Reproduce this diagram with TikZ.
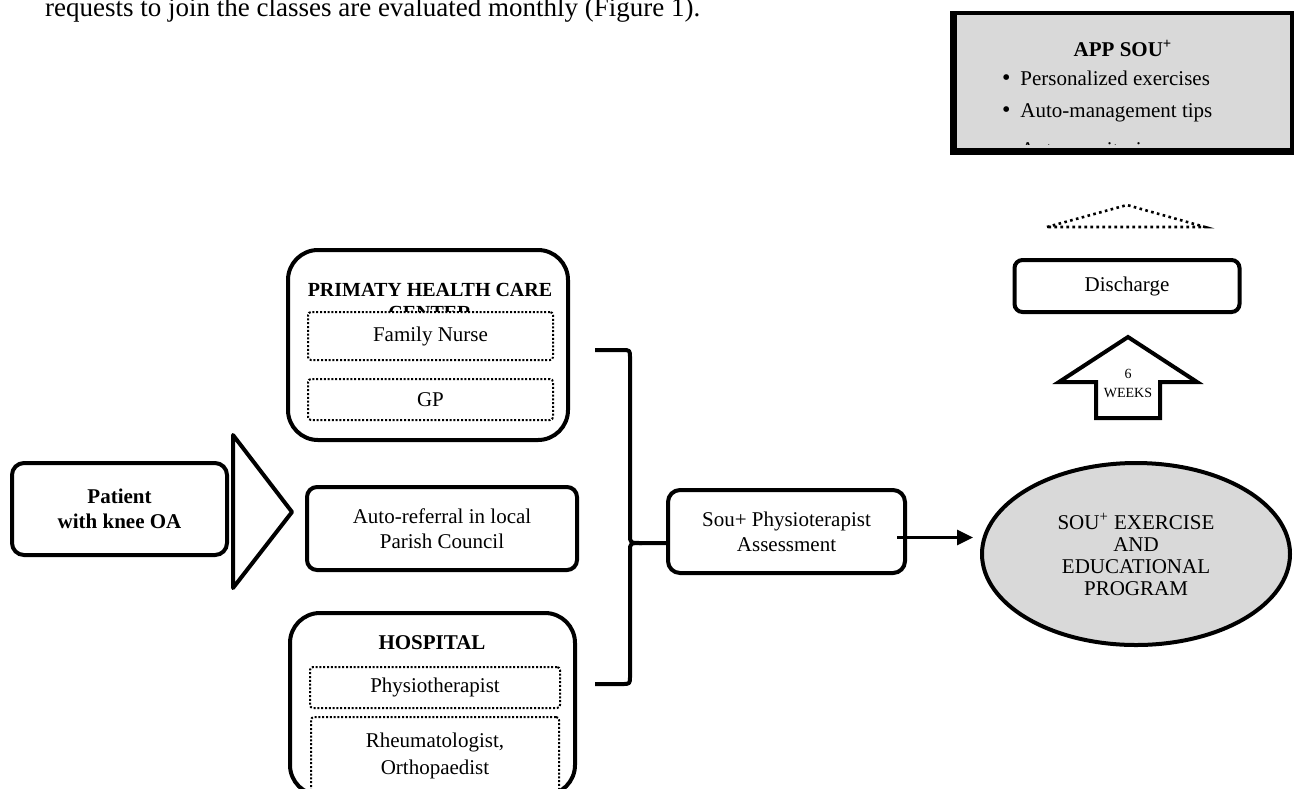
\documentclass[tikz,border=0pt]{standalone}
\usepackage{fontspec}
\setmainfont{Liberation Serif}
\usetikzlibrary {arrows.meta,
                 positioning,
                 shapes.geometric}
\definecolor{boxgray}{RGB}{217,217,217}
\tikzset{
        base/.style={draw, line width=2pt, align=center, inner sep=0pt,
                     font=\fontsize{10.5}{12.5}\selectfont},
        proc/.style={base, rectangle, rounded corners=6pt},
        group/.style={base, rectangle, rounded corners=15pt},
        member/.style={base, rectangle, fill=white, line width=1pt,
                       dash pattern=on 1pt off 0.9pt, rounded corners=1.5pt},
        head/.style={align=center, font=\bfseries\fontsize{10.5}{11.5}\selectfont},
        item/.style={anchor=west, font=\fontsize{10.5}{12.5}\selectfont},
        myarrow/.style={-{Triangle[length=8pt,width=7.5pt]}, line width=1.6pt},
        brace/.style={line width=2pt, line join=round},
        blockarrow/.style={line width=2pt, line join=miter},
 }
\begin{document}
\begin{tikzpicture}[x=0.5pt, y=-0.5pt]
    \useasboundingbox (0,0) rectangle (1295,788);

    \node[anchor=base west, font=\fontsize{13.5}{16}\selectfont] (intro) at (38,16)
        {requests to join the classes are evaluated monthly (Figure 1).};

    % app box
    \node[base, rectangle, fill=boxgray, minimum width=168.5pt, minimum height=68.5pt] (app) at (1123.5,81.5) {};
    \node[head] (appt) at (1123,48) {APP SOU\textsuperscript{+}};
    \node[item] (b1) at (995,78) {{\large\textbullet}\hskip5pt Personalized exercises};
    \node[item] (b2) at (995,113) {{\large\textbullet}\hskip5pt Auto-management tips};
    \begin{scope}
        \clip (957,15) rectangle (1290,144);
        \node[item] (b3) at (995,152) {{\large\textbullet}\hskip5pt Auto-monitoring};
    \end{scope}
    \draw[line width=2.6pt] (app.north west) -- (app.south west) -- (app.south east);

    \draw[line width=1.3pt, dash pattern=on 1.3pt off 1.7pt] (1047,227) -- (1127,205) -- (1205,227) -- cycle;

    \node[proc, rounded corners=4pt, minimum width=112.5pt, minimum height=26pt] (dis) at (1127,286) {Discharge};

    \draw[blockarrow] (1128,337) -- (1197,382) -- (1160,382) -- (1160,418) -- (1096,418)
        -- (1096,382) -- (1059,382) -- cycle;
    \node[align=center, font=\fontsize{7}{9.5}\selectfont] (weeks) at (1128,383) {6\\WEEKS};

    % left column
    \node[proc, font=\bfseries\fontsize{10.5}{12.5}\selectfont, minimum width=107.5pt,
          minimum height=46pt] (pat) at (119.5,509) {Patient\\with knee OA};
    \draw[line width=2pt, line join=round] (233,435) -- (292,512) -- (233,588) -- cycle;

    \node[group, minimum width=140pt, minimum height=95pt] (phc) at (428,345) {};
    \node[head, font=\bfseries\fontsize{10}{11.5}\selectfont] (phct) at (430,301) {PRIMATY HEALTH CARE\\CENTER};
    \node[member, minimum width=122.5pt, minimum height=24pt] (nurse) at (430.5,336) {Family Nurse};
    \node[member, minimum width=122.5pt, minimum height=20.5pt, below=8.5pt of nurse] (gp) {GP};

    \node[proc, rounded corners=5pt, minimum width=135pt, minimum height=41.5pt] (auto) at (442,528.5)
        {Auto-referral in local\\Parish Council};

    \node[group, minimum width=142.5pt, minimum height=91pt] (hosp) at (432.5,704) {};
    \node[head] (hospt) at (432,643) {HOSPITAL};
    \node[member, minimum width=125pt, minimum height=20.5pt] (physio) at (435,687.5) {Physiotherapist};
    \node[member, minimum width=124pt, minimum height=38.5pt, below=3.5pt of physio,
          font=\fontsize{10.5}{13.5}\selectfont] (rheum) {Rheumatologist,\\Orthopaedist};

    % assessment and program
    \node[proc, minimum width=118.5pt, minimum height=41.5pt] (sou) at (786.5,531.5)
        {Sou+ Physioterapist\\Assessment};
    \node[base, ellipse, fill=boxgray, minimum width=154pt, minimum height=91pt,
          font=\fontsize{10.5}{11}\selectfont] (prog) at (1136,554)
        {SOU\textsuperscript{+} EXERCISE\\AND\\EDUCATIONAL\\PROGRAM};

    \coordinate (bt) at (595,350);
    \coordinate (bb) at (595,684);
    \coordinate (bm) at (642,543);
    \draw[brace] (bt) -- (622,350) .. controls (630,350) .. (630,358) -- (630,535)
        .. controls (630,543) .. (bm) -- (sou.west |- bm);
    \draw[brace] (bb) -- (622,684) .. controls (630,684) .. (630,676) -- (630,551)
        .. controls (630,543) .. (bm);

    \coordinate (s) at ([xshift=-5pt, yshift=-3pt]sou.east);
    \draw[myarrow, shorten >=3.5pt] (s) -- (s -| prog.west);
\end{tikzpicture}
\end{document}
